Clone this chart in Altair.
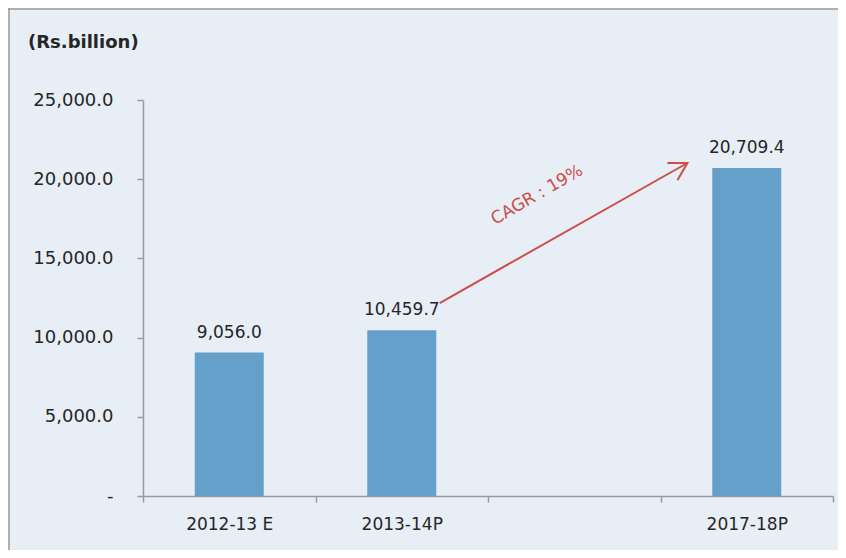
import altair as alt
import pandas as pd

# ---- data ----
categories = ["2012-13 E", "2013-14P", " ", "2017-18P"]
bar_cats = ["2012-13 E", "2013-14P", "2017-18P"]
values = [9056.0, 10459.7, 20709.4]
y_ticks = [0, 5000, 10000, 15000, 20000, 25000]
unit_label = ["(Rs.billion)"]
cagr_text = ["CAGR : 19%"]
# arrow annotation, positioned on a 0-4 scale spanning the category axis
arrow_pos = [1.72, 3.156]
arrow_val = [12184.0, 21023.0]
cagr_pos = [2.284]
cagr_val = [19003.0]

FONT = "DejaVu Sans"
RED = "#CC4F4A"
BAR = "#64A0C9"
GREY = "#9A9A9A"
W, H = 690, 396

bars_df = pd.DataFrame({"cat": bar_cats, "val": values})
arrow_df = pd.DataFrame({"pos": arrow_pos, "val": arrow_val})
head_df = arrow_df.tail(1)
cagr_df = pd.DataFrame({"pos": cagr_pos, "val": cagr_val, "t": cagr_text})
title_df = pd.DataFrame({"t": unit_label})

y_scale = alt.Scale(domain=[0, 25000])

x_enc = alt.X(
    "cat:N",
    scale=alt.Scale(domain=categories, paddingInner=0, paddingOuter=0),
    axis=alt.Axis(
        title=None, labelAngle=0, tickBand="extent", tickSize=6, labelPadding=14,
        labelFontSize=17, labelFont=FONT, labelColor="#262626",
        domainColor=GREY, tickColor=GREY, domainWidth=1.5, tickWidth=1.5,
    ),
)
y_enc = alt.Y(
    "val:Q",
    scale=y_scale,
    axis=alt.Axis(
        title=None, values=y_ticks, grid=False, tickSize=6, labelPadding=24,
        labelFontSize=18, labelFont=FONT, labelColor="#262626",
        labelExpr="datum.value == 0 ? '-\u00a0\u00a0' : format(datum.value, ',.1f')",
        domainColor=GREY, tickColor=GREY, domainWidth=1.5, tickWidth=1.5,
    ),
)

bars = alt.Chart(bars_df).mark_bar(color=BAR, width=alt.RelativeBandSize(0.4)).encode(
    x=x_enc, y=y_enc
)
labels = alt.Chart(bars_df).mark_text(
    dy=-15, baseline="alphabetic", fontSize=17, font=FONT, color="#262626"
).encode(x=x_enc, y=y_enc, text=alt.Text("val:Q", format=",.1f"))

main = alt.layer(bars, labels)

xq = alt.X("pos:Q", scale=alt.Scale(domain=[0, 4]), axis=None)
yq = alt.Y("val:Q", scale=y_scale)

line = alt.Chart(arrow_df).mark_line(color=RED, strokeWidth=2).encode(x=xq, y=yq)
head = alt.Chart(head_df).mark_point(
    shape="M -0.866 -0.5 L 0 0 L -0.866 0.5", filled=False, size=1600,
    angle=330, strokeWidth=2, color=RED, opacity=1
).encode(x=xq, y=yq)
cagr = alt.Chart(cagr_df).mark_text(
    angle=330, fontSize=17, font=FONT, color=RED, align="center", baseline="middle"
).encode(x=xq, y=yq, text="t:N")

arrow = alt.layer(line, head, cagr)

one = pd.DataFrame({"k": [1]})
top_border = alt.Chart(one).mark_rule(color=GREY, strokeWidth=1.5).encode(
    x=alt.value(-135), x2=alt.value(W + 10), y=alt.value(-91)
)
left_border = alt.Chart(one).mark_rule(color=GREY, strokeWidth=1.5).encode(
    x=alt.value(-134), y=alt.value(-92), y2=alt.value(H + 60)
)
title = alt.Chart(title_df).mark_text(
    align="left", baseline="middle", fontSize=18, fontWeight="bold", font=FONT, color="#262626"
).encode(x=alt.value(-115), y=alt.value(-57), text="t:N")

chart = alt.layer(main, arrow, top_border, left_border, title).resolve_scale(
    x="independent"
).properties(
    width=W, height=H,
    autosize=alt.AutoSizeParams(type="none"),
    padding={"left": 135, "top": 92, "right": 5, "bottom": 54},
    background="#E7EEF6",
).configure_view(strokeWidth=0)

chart.save("out.html", embed_options={"renderer": "svg", "actions": False})
